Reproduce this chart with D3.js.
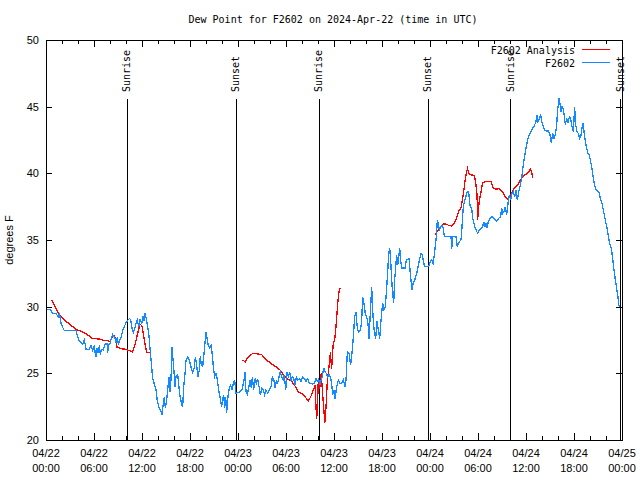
<!DOCTYPE html>
<html>
<head>
<meta charset="utf-8">
<script src="https://cdn.jsdelivr.net/npm/d3@7"></script>
<style>
  body { margin: 0; background: #fff; }
  text { font-family: "DejaVu Sans Mono", monospace; font-size: 10px; fill: #000; }
  .tick-label { font-family: "Liberation Sans", Arial, sans-serif; font-size: 11px; }
</style>
</head>
<body>
<svg id="chart"></svg>
<script>
const width = 640;
const height = 480;
const margin = { left: 46, right: 18, top: 40, bottom: 40 };

// hours since 2024-04-22 00:00 UTC
const obsHours = [0,0.42,0.62,0.83,1.25,1.46,1.58,1.67,1.79,1.88,2.08,2.29,3.75,3.96,4.17,4.38,4.58,4.79,4.92,5.0,
  5.42,5.63,5.83,6.04,6.13,6.25,6.38,6.54,6.67,6.79,6.92,7.17,7.33,7.5,7.63,7.71,7.83,8.0,8.17,8.33,
  8.5,8.67,8.79,8.92,9.04,9.25,9.42,9.58,9.79,10.0,10.25,10.42,10.58,10.75,10.92,11.08,11.25,11.42,11.58,11.79,
  11.96,12.13,12.25,12.38,12.54,12.71,12.88,13.04,13.21,13.33,13.54,13.75,13.92,14.13,14.29,14.5,14.67,14.79,14.92,15.08,
  15.25,15.38,15.5,15.63,15.75,15.88,16.0,16.13,16.25,16.46,16.58,16.75,16.92,17.08,17.21,17.42,17.5,17.71,17.92,18.13,
  18.33,18.54,18.67,18.83,19.0,19.17,19.29,19.42,19.58,19.79,20.0,20.13,20.29,20.46,20.63,20.75,20.92,21.08,21.25,21.42,
  21.58,21.79,21.96,22.08,22.21,22.33,22.46,22.58,22.75,22.92,23.08,23.25,23.42,23.58,23.75,24.17,24.5,24.75,24.88,25.0,
  25.17,25.33,25.5,25.67,25.79,25.96,26.13,26.29,26.46,26.63,26.79,27.0,27.17,27.33,27.5,27.71,27.92,28.13,28.29,28.46,
  28.63,28.79,28.96,29.13,29.29,29.46,29.63,29.79,29.96,30.13,30.29,30.46,30.63,30.79,30.96,31.13,31.29,31.46,31.67,31.88,
  32.08,32.29,32.5,32.71,32.92,33.13,33.33,33.54,33.75,33.92,34.08,34.25,34.38,34.54,34.71,34.88,35.04,35.21,35.38,35.54,
  35.71,35.83,36.0,36.13,36.33,36.54,36.75,36.96,37.17,37.38,37.5,37.67,37.88,38.08,38.29,38.42,38.58,38.75,38.88,39.04,
  39.29,39.46,39.58,39.75,39.92,40.08,40.25,40.38,40.54,40.71,40.88,41.04,41.21,41.38,41.54,41.71,41.88,42.08,42.25,42.42,
  42.58,42.71,42.83,42.96,43.08,43.21,43.33,43.46,43.58,43.71,43.83,43.96,44.08,44.21,44.33,44.46,44.88,45.04,45.38,45.5,
  45.63,45.75,45.88,46.04,46.21,46.38,46.54,46.71,46.88,47.04,47.17,47.33,47.71,47.88,48.04,48.21,48.38,48.54,48.67,48.79,
  48.92,49.04,49.17,49.33,49.5,49.67,49.79,50.63,50.71,50.83,51.25,51.42,51.54,51.71,51.88,52.0,52.13,52.25,52.42,52.58,
  52.75,52.83,53.0,53.21,53.33,53.54,53.75,53.96,54.17,54.38,54.58,54.71,54.88,55.0,55.13,55.29,55.5,55.75,56.04,56.33,
  56.58,56.83,56.96,57.08,57.25,57.42,57.58,57.75,57.92,58.08,58.25,58.42,58.58,58.75,58.92,59.08,59.29,59.46,59.58,59.75,
  59.92,60.08,60.25,60.42,60.63,60.83,61.04,61.25,61.38,61.5,61.67,61.83,61.96,62.17,62.33,62.58,62.83,63.0,63.17,63.33,
  63.5,63.67,63.83,63.96,64.13,64.25,64.38,64.5,64.63,64.75,64.92,65.08,65.25,65.42,65.58,65.75,65.92,66.08,66.21,66.38,
  66.54,66.71,66.88,67.0,67.13,67.25,67.42,67.58,67.75,67.92,68.08,68.25,68.42,68.58,68.75,68.96,69.17,69.33,69.5,69.67,
  69.83,70.0,70.17,70.33,70.5,70.67,70.83,71.0,71.17,71.33,71.5,71.58,71.75];
const obsValues = [29.8,29.8,29.7,29.5,29.5,29.3,29.2,29.55,29.1,28.75,28.45,28.2,28.2,27.75,27.4,27.3,27.2,27.5,27.1,26.8,
  26.8,27.1,26.75,27.1,26.6,26.25,26.9,26.5,27.1,26.4,26.8,26.75,27.1,27.25,27.25,26.55,27.1,27.25,27.6,27.9,
  27.75,27.55,27.25,27.7,27.2,27.5,27.75,28.2,28.5,28.8,29.0,29.1,29.05,28.4,28.05,28.3,28.75,29.0,28.5,29.1,
  28.7,29.3,28.9,29.5,29.1,28.5,27.75,26.6,25.5,24.6,24.2,23.75,22.9,22.45,22.25,21.95,22.75,23.2,22.4,23.0,
  24.0,24.7,23.6,24.6,27.0,26.0,25.1,24.0,24.8,24.9,24.2,23.25,22.8,22.45,24.0,25.25,26.0,26.2,26.0,25.45,
  25.1,25.4,26.25,25.6,24.75,25.25,26.3,25.6,25.5,26.75,28.1,27.6,27.1,26.9,27.1,26.6,25.5,24.75,25.0,24.5,
  23.75,23.1,22.5,23.0,23.4,22.4,23.25,22.05,23.25,23.9,24.1,23.75,24.25,24.5,23.5,23.6,23.75,24.5,25.1,23.6,
  23.4,23.9,24.5,23.9,24.75,23.75,24.6,24.25,24.6,24.0,23.4,23.9,23.75,23.4,23.75,23.5,23.75,24.0,24.7,24.55,
  23.9,24.4,24.25,24.75,25.1,24.75,24.5,24.9,23.75,25.1,24.75,25.1,24.5,24.75,24.6,24.1,24.7,24.5,24.6,24.4,
  24.7,24.6,24.4,24.6,24.25,24.25,24.2,24.25,24.6,24.4,24.55,24.1,24.5,24.75,25.4,25.1,25.0,24.75,24.9,24.75,
  24.25,23.4,23.75,23.1,24.0,24.5,24.25,24.25,24.5,24.0,24.5,26.6,26.5,25.6,26.75,27.75,29.25,29.6,28.6,28.1,
  28.25,28.9,30.75,30.25,29.4,29.25,28.75,27.6,29.5,31.5,29.25,28.1,27.6,28.9,28.25,27.6,29.0,30.25,29.75,30.0,
  31.4,32.6,34.0,34.4,33.5,32.0,31.0,30.25,32.0,32.9,33.9,33.1,33.6,34.4,33.5,32.9,32.9,33.5,33.6,32.75,
  31.9,31.25,31.75,31.9,32.25,32.6,33.1,33.6,34.0,33.9,33.4,33.0,33.0,33.1,33.4,33.5,33.25,33.9,34.6,35.25,
  36.5,36.25,35.75,36.0,36.1,35.9,35.25,35.25,34.3,35.25,35.25,34.45,34.75,34.9,35.0,36.0,37.25,37.75,38.1,38.5,
  38.65,38.65,37.6,37.375,36.625,36.125,35.75,35.5,35.75,35.875,36.0,36.375,36.0,36.25,35.875,36.375,36.625,36.75,36.625,36.425,
  36.625,36.75,37.375,37.0,37.125,37.5,36.875,37.75,38.375,38.0,38.5,38.625,38.25,38.75,38.0,38.625,39.125,39.625,40.25,41.0,
  41.625,42.125,42.625,42.875,43.125,43.375,43.575,43.875,44.375,43.875,44.125,44.375,43.875,43.5,43.25,43.175,43.175,42.875,42.25,43.0,
  42.625,42.875,43.625,44.75,45.625,45.25,44.625,45.0,44.875,44.5,43.625,44.125,43.75,44.25,44.125,43.5,43.125,45.0,43.625,43.125,
  43.0,42.625,42.875,43.375,43.75,43.125,42.375,41.875,41.5,41.375,40.875,40.375,39.625,39.125,38.75,38.675,38.5,38.0,37.75,37.25,
  36.75,36.25,35.75,35.125,34.625,34.375,33.625,32.75,32.0,31.375,30.75,30.125,30.0];

// analysis series, null marks a gap
const anaHours = [0.75,1.04,1.33,1.67,1.88,2.29,2.71,3.13,3.75,4.17,4.58,5.0,5.42,5.75,6.25,6.88,7.29,7.71,8.0,8.33,
  8.54,8.75,8.88,9.38,10.0,10.83,11.17,11.46,11.75,12.0,12.29,12.58,13.0,null,
  24.6,24.9,25.29,25.88,26.54,26.96,27.58,28.21,28.83,29.25,29.67,30.08,30.71,31.13,31.54,31.96,32.38,32.79,33.21,33.63,
  33.75,33.83,33.92,34.04,34.2,34.4,34.6,34.85,35.0,35.17,35.38,35.55,35.7,35.9,36.1,36.25,36.42,36.58,36.75,null,
  48.67,48.96,49.17,49.38,49.67,50.0,50.33,50.75,51.04,51.25,51.46,51.67,51.88,52.08,52.21,52.33,52.5,52.69,52.92,53.54,
  53.75,53.88,53.96,54.04,54.17,54.38,54.58,55.0,55.63,55.92,56.25,56.67,57.08,57.42,57.71,58.0,58.25,58.54,58.96,59.29,
  59.67,60.21,60.54,60.71,60.83];
const anaValues = [30.5,30.1,29.75,29.4,29.25,29.0,28.8,28.6,28.3,28.2,28.1,27.97,27.8,27.6,27.6,27.55,27.45,27.45,27.4,27.75,
  27.8,27.55,26.95,26.85,26.8,26.6,27.25,28.0,28.7,28.55,27.5,26.55,26.55,null,
  26.0,25.85,26.25,26.5,26.45,26.4,26.0,25.7,25.45,25.25,24.9,24.6,24.4,24.05,23.6,23.5,23.25,22.9,23.4,24.1,
  22.5,21.6,22.3,24.5,23.8,25.0,23.3,21.3,22.5,24.5,25.5,26.6,25.3,27.2,27.6,28.5,29.9,31.0,31.4,null,
  35.4,35.7,35.8,36.0,36.2,36.2,36.1,36.05,36.25,36.55,36.9,37.25,37.4,38.1,38.6,39.25,39.9,40.35,39.9,39.85,
  39.1,38.4,36.5,37.25,38.0,38.6,39.3,39.375,39.375,38.875,38.8,38.875,38.575,38.25,38.075,38.25,38.575,38.925,39.125,39.5,
  39.825,40.0,40.3,40.075,39.675];

const sunHours = [10.1, 23.7, 34.08, 47.7, 58.05, 71.75];
const sunLabels = ["Sunrise", "Sunset", "Sunrise", "Sunset", "Sunrise", "Sunset"];
const yTicks = [20, 25, 30, 35, 40, 45, 50];

const t0 = Date.UTC(2024, 3, 22);
const toDate = h => new Date(t0 + h * 3600e3);

const svg = d3.select("#chart").attr("width", width).attr("height", height);

const xScale = d3.scaleUtc()
  .domain([toDate(0), toDate(72)])
  .range([margin.left, width - margin.right]);
const yScale = d3.scaleLinear().domain([20, 50]).range([height - margin.bottom, margin.top]);

const majorTicks = d3.utcHour.every(6).range(toDate(0), toDate(72.01));
const minorTicks = d3.utcHour.every(2).range(toDate(0), toDate(72.01));

// ticks, inward, mirrored top/right
svg.append("g").attr("transform", "translate(0," + (height - margin.bottom) + ")")
  .call(d3.axisBottom(xScale).tickValues(minorTicks).tickSize(-4).tickFormat(""));
svg.append("g").attr("transform", "translate(0," + (height - margin.bottom) + ")")
  .call(d3.axisBottom(xScale).tickValues(majorTicks).tickSize(-7).tickFormat(""));
svg.append("g").attr("transform", "translate(0," + margin.top + ")")
  .call(d3.axisTop(xScale).tickValues(minorTicks).tickSize(-4).tickFormat(""));
svg.append("g").attr("transform", "translate(0," + margin.top + ")")
  .call(d3.axisTop(xScale).tickValues(majorTicks).tickSize(-7).tickFormat(""));
svg.append("g").attr("transform", "translate(" + margin.left + ",0)")
  .call(d3.axisLeft(yScale).tickValues(yTicks).tickSize(-6).tickPadding(7).tickFormat(d3.format("d")))
  .selectAll("text").attr("class", "tick-label");
svg.append("g").attr("transform", "translate(" + (width - margin.right) + ",0)")
  .call(d3.axisRight(yScale).tickValues(yTicks).tickSize(-6).tickFormat(""));
svg.selectAll(".domain").remove();
svg.selectAll(".tick line").attr("stroke", "#000").attr("shape-rendering", "crispEdges");

// two-line x labels
const xl = svg.append("g").selectAll("text").data(majorTicks).join("text")
  .attr("class", "tick-label")
  .attr("text-anchor", "middle")
  .attr("x", d => xScale(d));
xl.append("tspan").attr("x", d => xScale(d)).attr("y", 457).text(d3.utcFormat("%m/%d"));
xl.append("tspan").attr("x", d => xScale(d)).attr("y", 472).text(d3.utcFormat("%H:%M"));

// sunrise / sunset markers
const sun = svg.append("g").selectAll("g").data(sunHours).join("g");
sun.append("line")
  .attr("x1", d => Math.round(xScale(toDate(d))) + 0.5)
  .attr("x2", d => Math.round(xScale(toDate(d))) + 0.5)
  .attr("y1", 99).attr("y2", height - margin.bottom)
  .attr("stroke", "#000");
sun.append("text")
  .attr("transform", d => "translate(" + xScale(toDate(d)) + ",92) rotate(-90)")
  .attr("dy", "0.35em")
  .text((d, i) => sunLabels[i]);

const line = d3.line()
  .defined(d => d[0] !== null)
  .x(d => xScale(toDate(d[0])))
  .y(d => yScale(d[1]));

svg.append("path")
  .datum(anaHours.map((h, i) => [h, anaValues[i]]))
  .attr("fill", "none").attr("stroke", "#ff0000").attr("stroke-width", 1.3)
  .attr("shape-rendering", "crispEdges")
  .attr("d", line);
svg.append("path")
  .datum(obsHours.map((h, i) => [h, obsValues[i]]))
  .attr("fill", "none").attr("stroke", "#1589ff").attr("stroke-width", 1.3)
  .attr("shape-rendering", "crispEdges")
  .attr("d", line);

// frame
svg.append("rect")
  .attr("x", margin.left + 0.5).attr("y", margin.top + 0.5)
  .attr("width", width - margin.left - margin.right)
  .attr("height", height - margin.top - margin.bottom)
  .attr("fill", "none").attr("stroke", "#000").attr("shape-rendering", "crispEdges");

// legend
const legend = [["F2602 Analysis", "#ff0000"], ["F2602", "#1589ff"]];
legend.forEach(function (l, i) {
  svg.append("text").attr("x", 575).attr("y", 50 + i * 13).attr("dy", "0.35em")
    .attr("text-anchor", "end").text(l[0]);
  svg.append("line").attr("x1", 582).attr("x2", 610)
    .attr("y1", 49.5 + i * 13).attr("y2", 49.5 + i * 13)
    .attr("stroke", l[1]).attr("stroke-width", 1);
});

svg.append("text").attr("x", 333).attr("y", 23).attr("text-anchor", "middle")
  .text("Dew Point for F2602 on 2024-Apr-22 (time in UTC)");
svg.append("text").attr("class", "tick-label")
  .attr("transform", "translate(13,240) rotate(-90)")
  .attr("text-anchor", "middle")
  .text("degrees F");
</script>
</body>
</html>
